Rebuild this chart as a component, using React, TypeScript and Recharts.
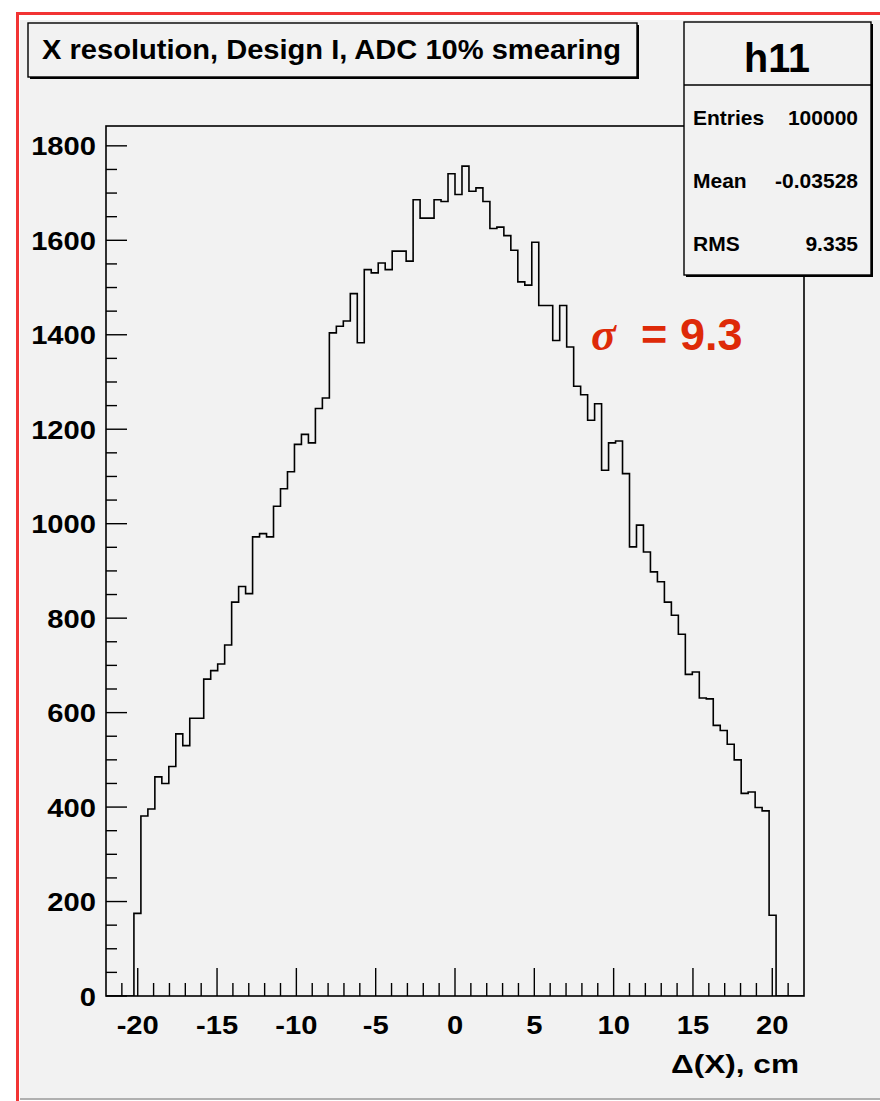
import React from "react";
import { LineChart, Line, XAxis, YAxis } from "recharts";

// h11: 100 bins on [-22, 22], outer four bins on each side are empty
const BIN_LOW = -22;
const BIN_HIGH = 22;
const BIN_WIDTH = 0.44;
const COUNTS = [
  0, 0, 0, 0,
  175, 381, 396, 464, 450, 486, 555, 530, 588, 588,
  671, 689, 703, 743, 834, 867, 852, 972, 979, 972,
  1037, 1074, 1110, 1168, 1189, 1171, 1244, 1266, 1404, 1418,
  1429, 1487, 1383, 1538, 1531, 1552, 1538, 1577, 1577, 1556,
  1686, 1647, 1647, 1686, 1682, 1741, 1697, 1757, 1704, 1711,
  1682, 1625, 1628, 1610, 1579, 1512, 1505, 1596, 1462, 1462,
  1388, 1462, 1374, 1291, 1273, 1219, 1254, 1113, 1171, 1175,
  1106, 951, 997, 940, 898, 877, 834, 806, 766, 681,
  686, 631, 629, 573, 562, 533, 500, 429, 432, 399,
  392, 171,
  0, 0, 0, 0,
];

const Y_MAX = 1842;
const X_LABELS = [-20, -15, -10, -5, 0, 5, 10, 15, 20];
const Y_LABELS = [0, 200, 400, 600, 800, 1000, 1200, 1400, 1600, 1800];
const X_MINOR_STEP = 1;
const Y_MINOR_STEP = 50;

const STATS = [
  { name: "Entries", value: "100000" },
  { name: "Mean", value: "-0.03528" },
  { name: "RMS", value: "9.335" },
];
const TITLE = "X resolution, Design I, ADC 10% smearing";
const X_TITLE = "\u0394(X), cm";

const xTicks: number[] = [];
for (let v = -21; v <= 21; v += X_MINOR_STEP) xTicks.push(v);
const yTicks: number[] = [];
for (let v = 0; v <= 1800; v += Y_MINOR_STEP) yTicks.push(v);

// step outline: each point is a bin's low edge, closed at the upper edge
const histData = [
  ...COUNTS.map((count, i) => ({ x: BIN_LOW + i * BIN_WIDTH, count })),
  { x: BIN_HIGH, count: 0 },
];

const W = 880;
const H = 1101;
const PLOT = { left: 106, top: 126, right: 804, bottom: 996 };
const RED = "#f23434";
const BG = "#f2f2f2";
const HELV = "'Liberation Sans', Arial, Helvetica, sans-serif";
const RED_TEXT = "#de2a08";
const LABEL_SIZE = 26.5;
const STRETCH = 1.1; // labels are drawn a little wide

function WideText({ x, y, anchor, children }: any) {
  return (
    <text
      transform={`translate(${x},${y}) scale(${STRETCH},1)`}
      textAnchor={anchor}
      fontFamily={HELV}
      fontWeight="bold"
      fontSize={LABEL_SIZE}
      fill="#000"
    >
      {children}
    </text>
  );
}

function XTick(props: any) {
  const { x, y, payload } = props;
  const major = X_LABELS.includes(payload.value);
  return (
    <g>
      <line x1={x} x2={x} y1={y} y2={y - (major ? 28 : 13)} stroke="#000" strokeWidth={1.4} />
      {major && (
        <WideText x={x} y={y + 38} anchor="middle">
          {payload.value}
        </WideText>
      )}
    </g>
  );
}

function YTick(props: any) {
  const { x, y, payload } = props;
  const major = Y_LABELS.includes(payload.value);
  return (
    <g>
      <line x1={x} x2={x + (major ? 21 : 11)} y1={y} y2={y} stroke="#000" strokeWidth={1.4} />
      {major && (
        <WideText x={x - 10} y={y + 9.5} anchor="end">
          {payload.value}
        </WideText>
      )}
    </g>
  );
}

function Decorations() {
  return (
    <svg width={W} height={H} style={{ position: "absolute", left: 0, top: 0, pointerEvents: "none" }}>
      {/* frame */}
      <rect
        x={PLOT.left}
        y={PLOT.top}
        width={PLOT.right - PLOT.left}
        height={PLOT.bottom - PLOT.top}
        fill="none"
        stroke="#000"
        strokeWidth={1.6}
      />

      {/* title pave */}
      <rect x={30} y={25} width={609} height={54} fill="#000" />
      <rect x={28} y={23} width={609} height={54} fill={BG} stroke="#000" strokeWidth={1.4} />
      <text x={42} y={58.5} fontFamily={HELV} fontWeight="bold" fontSize={27.5} textLength={579} lengthAdjust="spacingAndGlyphs" fill="#000">
        {TITLE}
      </text>

      {/* stats box */}
      <rect x={686} y={24} width={187} height={253} fill="#000" />
      <rect x={684} y={22} width={187} height={253} fill={BG} stroke="#000" strokeWidth={1.4} />
      <line x1={684} x2={871} y1={85} y2={85} stroke="#000" strokeWidth={1.4} />
      <text x={777} y={72} textAnchor="middle" fontFamily={HELV} fontWeight="bold" fontSize={41} textLength={66} lengthAdjust="spacingAndGlyphs" fill="#000">
        h11
      </text>
      {STATS.map((s, i) => (
        <g key={s.name}>
          <text x={693} y={125 + i * 63} fontFamily={HELV} fontWeight="bold" fontSize={21} fill="#000">
            {s.name}
          </text>
          <text x={858} y={125 + i * 63} textAnchor="end" fontFamily={HELV} fontWeight="bold" fontSize={21} fill="#000">
            {s.value}
          </text>
        </g>
      ))}

      {/* sigma annotation */}
      <text x={591} y={350} fontFamily="'Liberation Serif', serif" fontStyle="italic" fontWeight="bold" fontSize={46} fill={RED_TEXT}>
        {"\u03C3"}
      </text>
      <text x={641} y={350} fontFamily={HELV} fontWeight="bold" fontSize={45} fill={RED_TEXT}>
        =
      </text>
      <text x={680} y={350} fontFamily={HELV} fontWeight="bold" fontSize={45} fill={RED_TEXT}>
        9.3
      </text>

      {/* x axis title */}
      <text x={799} y={1073} textAnchor="end" fontFamily={HELV} fontWeight="bold" fontSize={LABEL_SIZE} textLength={128} lengthAdjust="spacingAndGlyphs" fill="#000">
        {X_TITLE}
      </text>
    </svg>
  );
}

export default function App() {
  return (
    <div style={{ position: "absolute", left: 0, top: 0, width: W, height: H, background: "#fff", overflow: "hidden" }}>
      <div style={{ position: "absolute", left: 16, top: 12, width: W - 16, height: 3, background: RED }} />
      <div style={{ position: "absolute", left: 16, top: 12, width: 3, height: H - 12, background: RED }} />
      <div
        style={{
          position: "absolute",
          left: 20,
          top: 20,
          width: W - 20,
          height: 1078,
          background: BG,
          borderBottom: "2px solid #b0b0b0",
        }}
      />
      <div style={{ position: "absolute", left: 0, top: 0 }}>
        <LineChart
          width={W}
          height={H}
          data={histData}
          margin={{ top: PLOT.top, right: W - PLOT.right, bottom: 0, left: 0 }}
        >
          <XAxis
            type="number"
            dataKey="x"
            domain={[BIN_LOW, BIN_HIGH]}
            allowDataOverflow
            ticks={xTicks}
            interval={0}
            tickSize={0}
            tickMargin={0}
            tickLine={false}
            axisLine={false}
            height={H - PLOT.bottom}
            tick={<XTick />}
          />
          <YAxis
            type="number"
            domain={[0, Y_MAX]}
            allowDataOverflow
            ticks={yTicks}
            interval={0}
            tickSize={0}
            tickMargin={0}
            tickLine={false}
            axisLine={false}
            width={PLOT.left}
            tick={<YTick />}
          />
          <Line
            type="stepAfter"
            dataKey="count"
            stroke="#000"
            strokeWidth={1.6}
            dot={false}
            activeDot={false}
            isAnimationActive={false}
          />
        </LineChart>
      </div>
      <Decorations />
    </div>
  );
}
